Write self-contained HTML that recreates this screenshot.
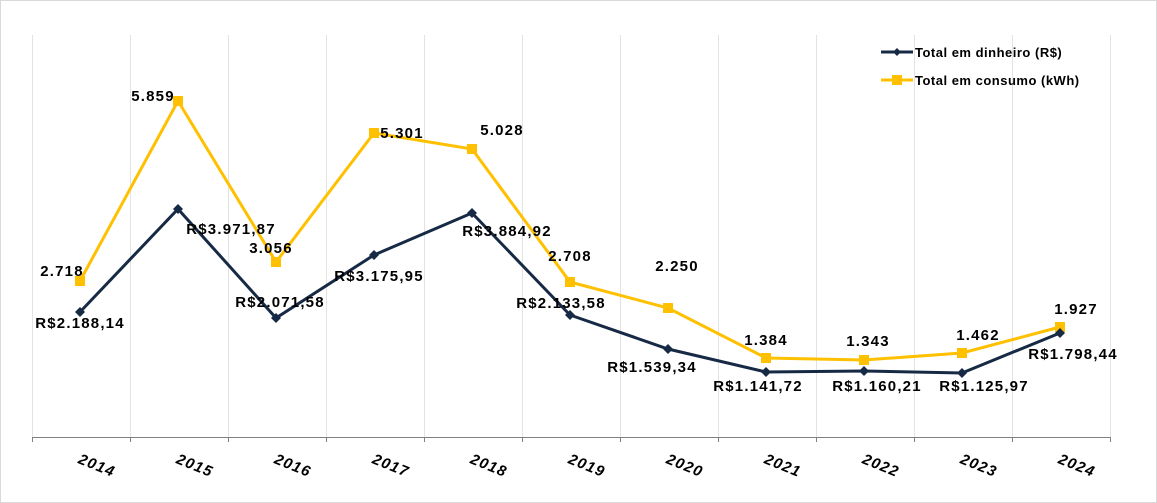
<!DOCTYPE html><html><head><style>body{margin:0;background:#fff}svg{display:block}text{font-family:"Liberation Sans",sans-serif;font-weight:bold;font-size:15px;letter-spacing:1.2px;fill:#000}</style></head><body>
<svg width="1157" height="503" viewBox="0 0 1157 503">
<rect x="0.5" y="0.5" width="1156" height="502" fill="#fff" stroke="#d9d9d9"/>
<g stroke="#e3e3e3" stroke-width="1">
<line x1="32.5" y1="35" x2="32.5" y2="437"/><line x1="130.5" y1="35" x2="130.5" y2="437"/><line x1="228.5" y1="35" x2="228.5" y2="437"/><line x1="326.5" y1="35" x2="326.5" y2="437"/><line x1="424.5" y1="35" x2="424.5" y2="437"/><line x1="522.5" y1="35" x2="522.5" y2="437"/><line x1="620.5" y1="35" x2="620.5" y2="437"/><line x1="718.5" y1="35" x2="718.5" y2="437"/><line x1="816.5" y1="35" x2="816.5" y2="437"/><line x1="914.5" y1="35" x2="914.5" y2="437"/><line x1="1012.5" y1="35" x2="1012.5" y2="437"/><line x1="1110.5" y1="35" x2="1110.5" y2="437"/>
</g>
<line x1="32" y1="437.5" x2="1111" y2="437.5" stroke="#808080"/>
<g stroke="#808080"><line x1="32.5" y1="437" x2="32.5" y2="442"/><line x1="130.5" y1="437" x2="130.5" y2="442"/><line x1="228.5" y1="437" x2="228.5" y2="442"/><line x1="326.5" y1="437" x2="326.5" y2="442"/><line x1="424.5" y1="437" x2="424.5" y2="442"/><line x1="522.5" y1="437" x2="522.5" y2="442"/><line x1="620.5" y1="437" x2="620.5" y2="442"/><line x1="718.5" y1="437" x2="718.5" y2="442"/><line x1="816.5" y1="437" x2="816.5" y2="442"/><line x1="914.5" y1="437" x2="914.5" y2="442"/><line x1="1012.5" y1="437" x2="1012.5" y2="442"/><line x1="1110.5" y1="437" x2="1110.5" y2="442"/></g>
<g>
<text transform="translate(95,470) rotate(22)" text-anchor="middle" font-style="italic">2014</text>
<text transform="translate(193,470) rotate(22)" text-anchor="middle" font-style="italic">2015</text>
<text transform="translate(291,470) rotate(22)" text-anchor="middle" font-style="italic">2016</text>
<text transform="translate(389,470) rotate(22)" text-anchor="middle" font-style="italic">2017</text>
<text transform="translate(487,470) rotate(22)" text-anchor="middle" font-style="italic">2018</text>
<text transform="translate(585,470) rotate(22)" text-anchor="middle" font-style="italic">2019</text>
<text transform="translate(683,470) rotate(22)" text-anchor="middle" font-style="italic">2020</text>
<text transform="translate(781,470) rotate(22)" text-anchor="middle" font-style="italic">2021</text>
<text transform="translate(879,470) rotate(22)" text-anchor="middle" font-style="italic">2022</text>
<text transform="translate(977,470) rotate(22)" text-anchor="middle" font-style="italic">2023</text>
<text transform="translate(1075,470) rotate(22)" text-anchor="middle" font-style="italic">2024</text>
</g>
<polyline fill="none" stroke="#ffc000" stroke-width="3" points="80,281 178,101 276,262 374,133 472,149 570,282 668,308 766,358 864,360 962,353 1060,327"/>
<g fill="#ffc000"><rect x="75" y="276" width="10" height="10"/><rect x="173" y="96" width="10" height="10"/><rect x="271" y="257" width="10" height="10"/><rect x="369" y="128" width="10" height="10"/><rect x="467" y="144" width="10" height="10"/><rect x="565" y="277" width="10" height="10"/><rect x="663" y="303" width="10" height="10"/><rect x="761" y="353" width="10" height="10"/><rect x="859" y="355" width="10" height="10"/><rect x="957" y="348" width="10" height="10"/><rect x="1055" y="322" width="10" height="10"/></g>
<polyline fill="none" stroke="#172a45" stroke-width="3" points="80,312 178,209 276,318 374,255 472,213 570,315 668,349 766,372 864,371 962,373 1060,333"/>
<g fill="#172a45"><path d="M80 307l5 5-5 5-5-5z"/><path d="M178 204l5 5-5 5-5-5z"/><path d="M276 313l5 5-5 5-5-5z"/><path d="M374 250l5 5-5 5-5-5z"/><path d="M472 208l5 5-5 5-5-5z"/><path d="M570 310l5 5-5 5-5-5z"/><path d="M668 344l5 5-5 5-5-5z"/><path d="M766 367l5 5-5 5-5-5z"/><path d="M864 366l5 5-5 5-5-5z"/><path d="M962 368l5 5-5 5-5-5z"/><path d="M1060 328l5 5-5 5-5-5z"/></g>
<g text-anchor="middle">
<text x="62" y="276">2.718</text><text x="153" y="101">5.859</text><text x="271" y="253">3.056</text><text x="402" y="138">5.301</text><text x="502" y="135">5.028</text><text x="570" y="261">2.708</text><text x="677" y="271">2.250</text><text x="766" y="345">1.384</text><text x="868" y="346">1.343</text><text x="978" y="340">1.462</text><text x="1076" y="314">1.927</text>
<text x="80" y="328">R$2.188,14</text><text x="231" y="234">R$3.971,87</text><text x="280" y="307">R$2.071,58</text><text x="379" y="281">R$3.175,95</text><text x="507" y="236">R$3.884,92</text><text x="561" y="308">R$2.133,58</text><text x="652" y="372">R$1.539,34</text><text x="758" y="391">R$1.141,72</text><text x="877" y="391">R$1.160,21</text><text x="984" y="391">R$1.125,97</text><text x="1073" y="359">R$1.798,44</text>
</g>
<line x1="881" y1="52" x2="913" y2="52" stroke="#172a45" stroke-width="3"/><path d="M897 48l4 4-4 4-4-4z" fill="#172a45"/>
<line x1="881" y1="80" x2="913" y2="80" stroke="#ffc000" stroke-width="3"/><rect x="892" y="75" width="10" height="10" fill="#ffc000"/>
<text x="915" y="57" style="font-size:13px;letter-spacing:0.5px">Total em dinheiro (R$)</text>
<text x="915" y="85" style="font-size:13px;letter-spacing:0.5px">Total em consumo (kWh)</text>
</svg></body></html>
